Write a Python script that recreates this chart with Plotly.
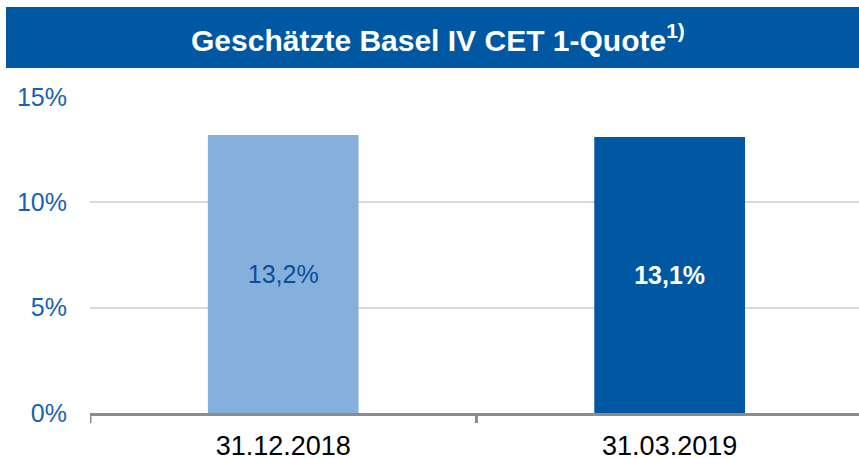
import plotly.graph_objects as go

# ---- data ----
categories = ["31.12.2018", "31.03.2019"]
cet1_values = [13.2, 13.1]
value_labels = ["13,2%", "13,1%"]
y_tick_values = [0, 5, 10, 15]
y_tick_labels = ["0%", "5%", "10%", "15%"]
title_text = "Geschätzte Basel IV CET 1-Quote"
title_footnote = "1)"

# ---- styling ----
W, H = 859, 458
L, R, T, B = 90, 0, 97, 45
plot_w = W - L - R
plot_h = H - T - B
AXIS_GRAY = "#8c8c8c"

bar_colors = ["#86b0dc", "#0058a2"]
label_colors = ["#0b4f98", "#ffffff"]
label_texts = [value_labels[0], f"<b>{value_labels[1]}</b>"]

fig = go.Figure()
fig.add_trace(go.Bar(
    x=categories,
    y=cet1_values,
    width=0.39,
    marker=dict(color=bar_colors, line=dict(width=0)),
    text=label_texts,
    textposition="inside",
    insidetextanchor="middle",
    constraintext="none",
    textangle=0,
    textfont=dict(family="Liberation Sans, Arial", size=25, color=label_colors),
    hoverinfo="skip",
))

def px_to_paper_x(px):
    return (px - L) / plot_w

def px_to_paper_y(py):
    return (H - B - py) / plot_h

# title bar
fig.add_shape(
    type="rect", xref="paper", yref="paper",
    x0=px_to_paper_x(6), x1=px_to_paper_x(W + 2),
    y0=px_to_paper_y(68), y1=px_to_paper_y(7),
    fillcolor="#0058a2", line=dict(width=0), layer="above",
)
fig.add_annotation(
    xref="paper", yref="paper",
    x=px_to_paper_x(438), y=px_to_paper_y(38),
    xanchor="center", yanchor="middle",
    text=f"<b>{title_text}<sup>{title_footnote}</sup></b>",
    showarrow=False,
    font=dict(family="Liberation Sans, Arial", size=30, color="#ffffff"),
)

# category boundary tick marks (left edge and between categories)
for i in range(len(categories)):
    fig.add_shape(
        type="line", xref="x", yref="paper",
        x0=i - 0.5, x1=i - 0.5,
        y0=0, y1=-10 / plot_h,
        line=dict(color=AXIS_GRAY, width=3),
        layer="above",
    )

fig.update_layout(
    width=W, height=H,
    margin=dict(l=L, r=R, t=T, b=B, pad=0, autoexpand=False),
    paper_bgcolor="#ffffff",
    plot_bgcolor="#ffffff",
    showlegend=False,
    xaxis=dict(
        type="category",
        range=[-0.5, 1.49],
        automargin=False,
        showgrid=False,
        showline=True,
        linecolor=AXIS_GRAY,
        linewidth=3,
        ticks="",
        ticklabelstandoff=7,
        tickfont=dict(family="Liberation Sans, Arial", size=27, color="#000000"),
        fixedrange=True,
    ),
    yaxis=dict(
        range=[0, 15],
        automargin=False,
        tickvals=y_tick_values,
        ticktext=y_tick_labels,
        showgrid=True,
        gridcolor="#d9d9d9",
        gridwidth=1.5,
        zeroline=False,
        showline=False,
        ticks="",
        ticklabelstandoff=22,
        tickfont=dict(family="Liberation Sans, Arial", size=25, color="#1662b2"),
        fixedrange=True,
    ),
)

fig.write_html(
    "out.html",
    config={"displayModeBar": False},
    post_script="document.body.style.margin='0';document.body.style.padding='0';document.body.style.overflow='hidden';",
)
